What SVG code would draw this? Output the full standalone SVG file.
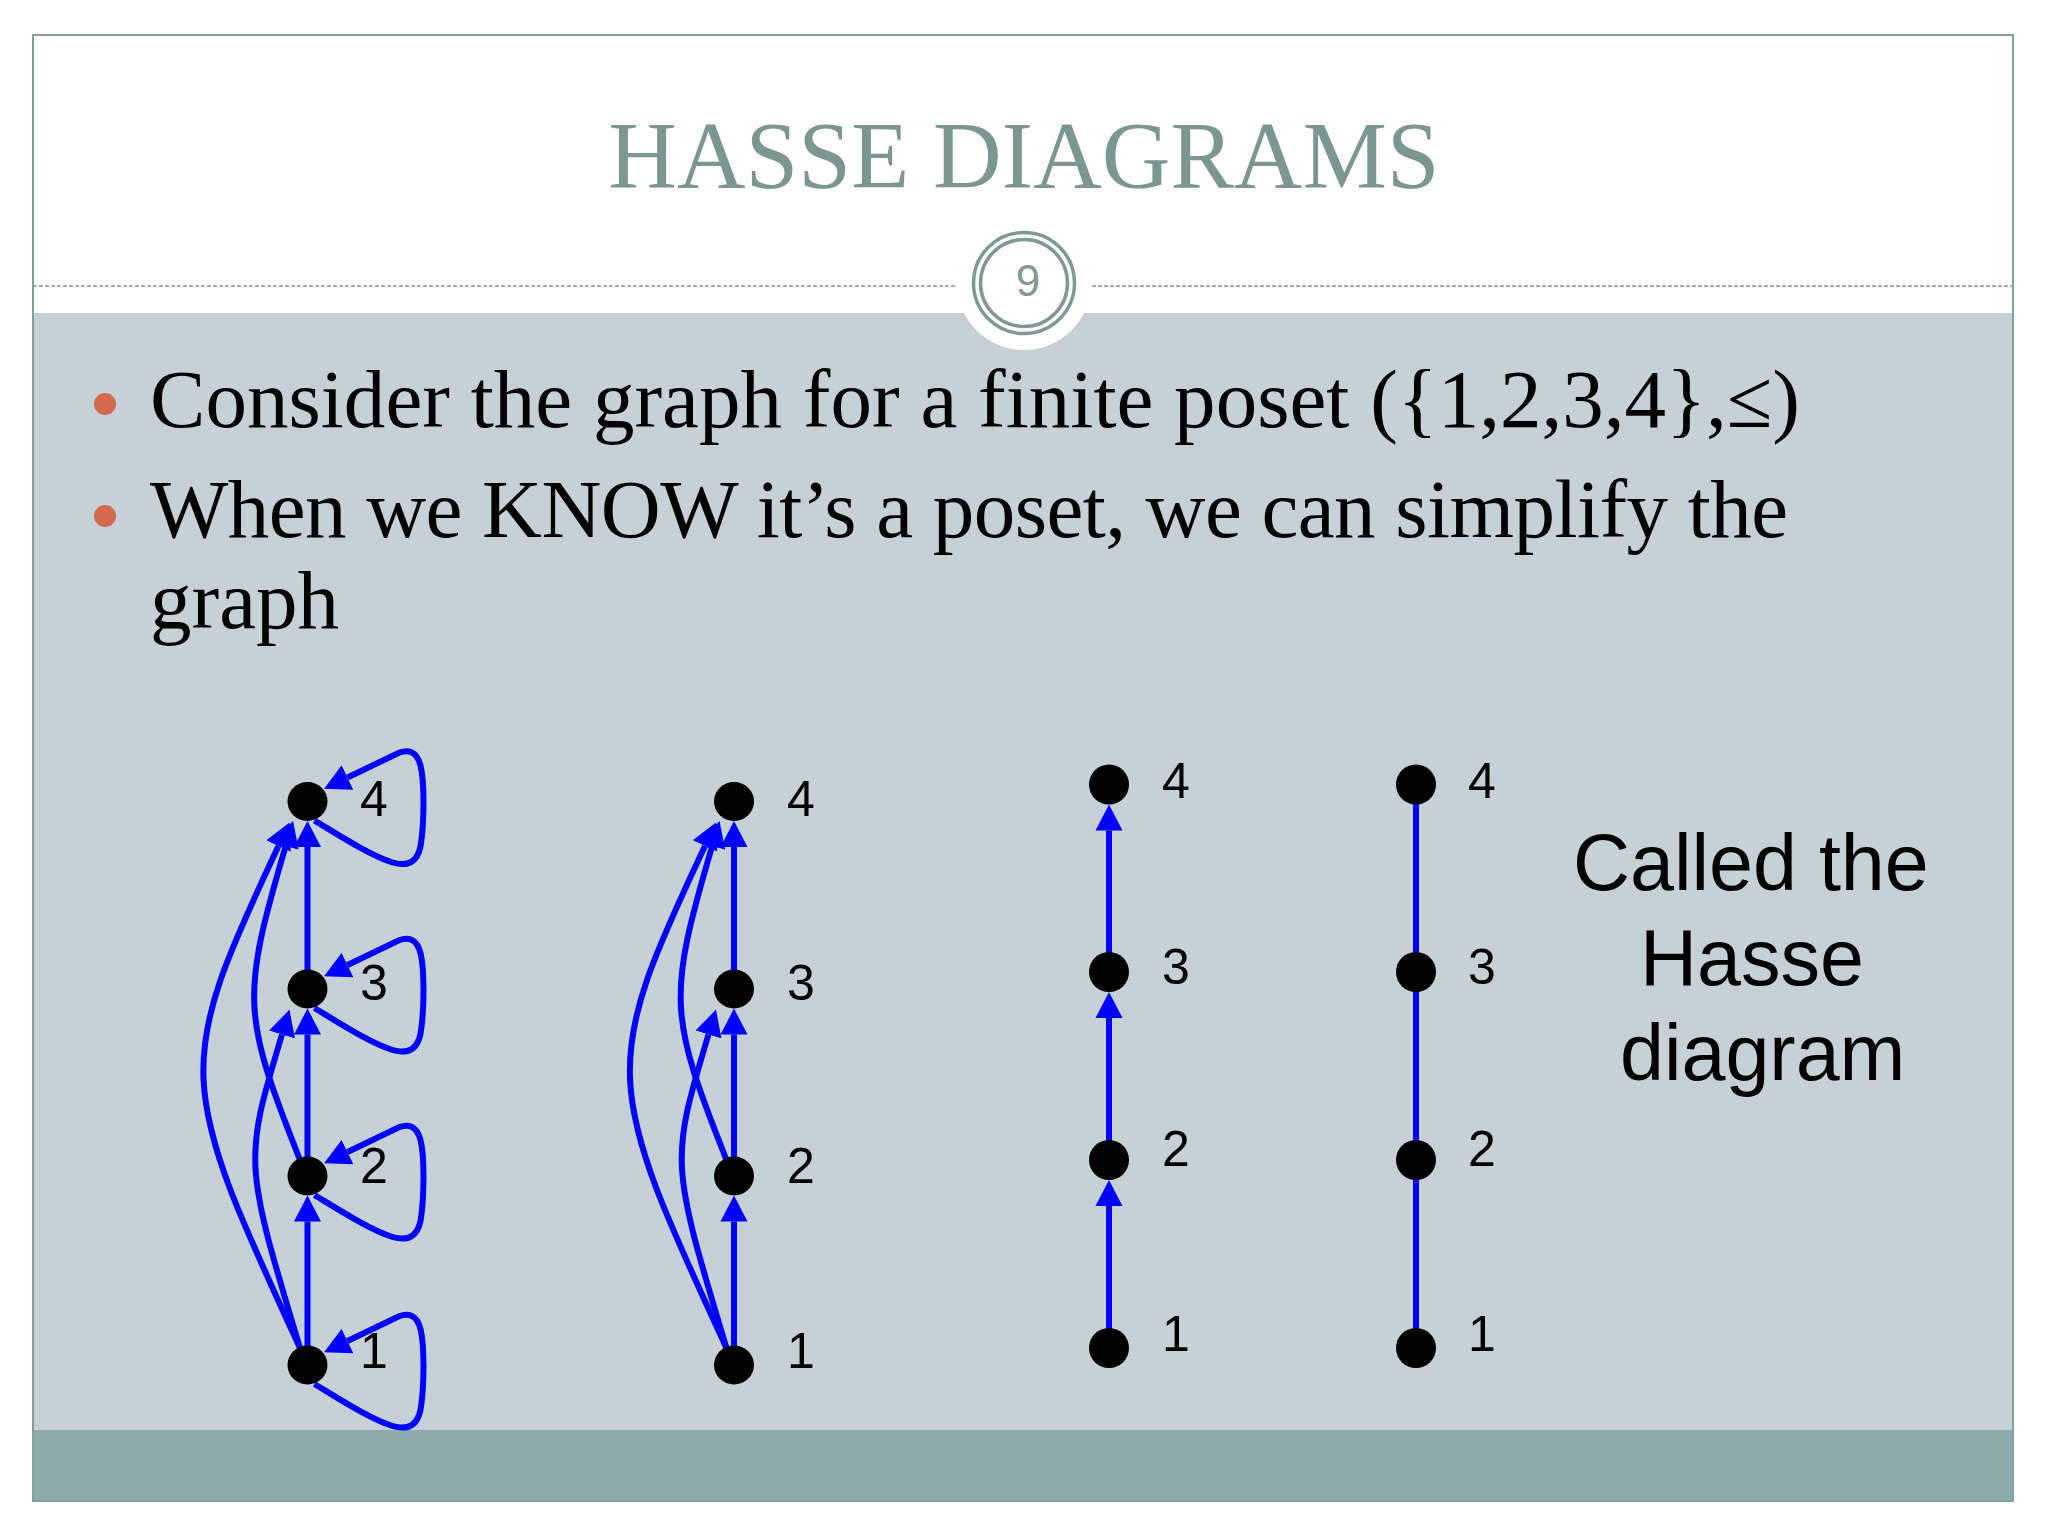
<svg xmlns="http://www.w3.org/2000/svg" xmlns:xlink="http://www.w3.org/1999/xlink" width="2048" height="1536" viewBox="0 0 2048 1536">
<style>
.title{font-family:"Liberation Serif",serif;font-size:95px;fill:#7c9791}
.body{font-family:"Liberation Serif",serif;font-size:83px;fill:#000}
.lbl{font-family:"Liberation Sans",Arial,sans-serif;font-size:50px;fill:#000}
.note{font-family:"Liberation Sans",Arial,sans-serif;font-size:79px;fill:#000}
.edge{fill:none;stroke:#0000ff;stroke-width:6}
.arr{marker-end:url(#ah)}
.node{fill:#000}
.bullet{fill:#d3694a}
</style>
<defs>
<marker id="ah" viewBox="0 -14 26 28" refX="0" refY="0" markerWidth="26" markerHeight="28" markerUnits="userSpaceOnUse" orient="auto">
<path d="M0,-13.5 L26,0 L0,13.5 Z" fill="#0000ff"/>
</marker>
<path id="loop" class="edge arr" d="M7,19 C35,36 63,54 85,61 C102,66 110,59 113,45 C117,20 117,-20 113,-36 C109,-51 100,-52 92,-49 L40,-24"/>
</defs>

<rect x="0" y="0" width="2048" height="1536" fill="#ffffff"/>
<rect x="33" y="35" width="1980" height="278" fill="#ffffff"/>
<rect x="33" y="313" width="1980" height="1117" fill="#c5d1d6"/>
<rect x="33" y="1430" width="1980" height="71" fill="#8eabab"/>
<rect x="33" y="35" width="1980" height="1466" fill="none" stroke="#84a09b" stroke-width="2"/>

<g id="header">
<text class="title" x="1024" y="188" text-anchor="middle">HASSE DIAGRAMS</text>
<line x1="33" y1="286" x2="956" y2="286" stroke="#7f9a94" stroke-width="1.5" stroke-dasharray="4 2"/>
<line x1="1092" y1="286" x2="2012" y2="286" stroke="#7f9a94" stroke-width="1.5" stroke-dasharray="4 2"/>
<circle cx="1024" cy="283" r="67" fill="#ffffff"/>
<circle cx="1024" cy="283" r="50.5" fill="none" stroke="#7f9a94" stroke-width="3.5"/>
<circle cx="1024" cy="283" r="43.5" fill="none" stroke="#7f9a94" stroke-width="3.5"/>
<text x="1028" y="296" text-anchor="middle" font-family="Liberation Sans, Arial, sans-serif" font-size="44" fill="#7f9a94">9</text>
</g>

<g id="bullets">
<circle class="bullet" cx="105" cy="404" r="11"/>
<circle class="bullet" cx="105" cy="516" r="11"/>
<text class="body" x="150" y="427" textLength="1650" lengthAdjust="spacing">Consider the graph for a finite poset ({1,2,3,4},≤)</text>
<text class="body" x="150" y="537" textLength="1638" lengthAdjust="spacing">When we KNOW it’s a poset, we can simplify the</text>
<text class="body" x="150" y="628">graph</text>
</g>

<g id="connectors">
<g id="g1-edges">
<path class="edge arr" d="M307.5,1350 L307.5,1221.5"/>
<path class="edge arr" d="M307.5,1160 L307.5,1034.5"/>
<path class="edge arr" d="M307.5,972 L307.5,847"/>
<path class="edge arr" d="M300,1348 C176,1080 174,1068 278.5,846"/>
<path class="edge arr" d="M300,1160 C242,1014 241,998 285.7,846"/>
<path class="edge arr" d="M300,1348 C243.7,1161.5 243.7,1161.5 282,1034.5"/>
<use href="#loop" xlink:href="#loop" x="307.5" y="801.5"/>
<use href="#loop" xlink:href="#loop" x="307.5" y="989"/>
<use href="#loop" xlink:href="#loop" x="307.5" y="1176"/>
<use href="#loop" xlink:href="#loop" x="307.5" y="1365"/>
</g>
<g id="g2-edges" transform="translate(426.5,0)">
<path class="edge arr" d="M307.5,1350 L307.5,1221.5"/>
<path class="edge arr" d="M307.5,1160 L307.5,1034.5"/>
<path class="edge arr" d="M307.5,972 L307.5,847"/>
<path class="edge arr" d="M300,1348 C176,1080 174,1068 278.5,846"/>
<path class="edge arr" d="M300,1160 C242,1014 241,998 285.7,846"/>
<path class="edge arr" d="M300,1348 C243.7,1161.5 243.7,1161.5 282,1034.5"/>
</g>
<g id="g3-edges">
<path class="edge arr" d="M1109,1330 L1109,1206"/>
<path class="edge arr" d="M1109,1142 L1109,1018"/>
<path class="edge arr" d="M1109,954 L1109,830.5"/>
</g>
<g id="g4-edges">
<path class="edge" d="M1416,1348 L1416,1160"/>
<path class="edge" d="M1416,1160 L1416,972"/>
<path class="edge" d="M1416,972 L1416,784.5"/>
</g>
</g>

<g id="graph1">
<g id="g1-n4"><ellipse class="node" cx="307.5" cy="801.5" rx="20" ry="19.5"/><text class="lbl" x="360" y="816">4</text></g>
<g id="g1-n3"><ellipse class="node" cx="307.5" cy="989" rx="20" ry="19.5"/><text class="lbl" x="360" y="1000">3</text></g>
<g id="g1-n2"><ellipse class="node" cx="307.5" cy="1176" rx="20" ry="19.5"/><text class="lbl" x="360" y="1183">2</text></g>
<g id="g1-n1"><ellipse class="node" cx="307.5" cy="1365" rx="20" ry="19.5"/><text class="lbl" x="360" y="1368">1</text></g>
</g>
<g id="graph2">
<g id="g2-n4"><ellipse class="node" cx="734" cy="801.5" rx="20" ry="19.5"/><text class="lbl" x="787" y="816">4</text></g>
<g id="g2-n3"><ellipse class="node" cx="734" cy="989" rx="20" ry="19.5"/><text class="lbl" x="787" y="1000">3</text></g>
<g id="g2-n2"><ellipse class="node" cx="734" cy="1176" rx="20" ry="19.5"/><text class="lbl" x="787" y="1183">2</text></g>
<g id="g2-n1"><ellipse class="node" cx="734" cy="1365" rx="20" ry="19.5"/><text class="lbl" x="787" y="1368">1</text></g>
</g>
<g id="graph3">
<g id="g3-n4"><circle class="node" cx="1109" cy="784.5" r="20"/><text class="lbl" x="1162" y="798">4</text></g>
<g id="g3-n3"><circle class="node" cx="1109" cy="972" r="20"/><text class="lbl" x="1162" y="984">3</text></g>
<g id="g3-n2"><circle class="node" cx="1109" cy="1160" r="20"/><text class="lbl" x="1162" y="1166">2</text></g>
<g id="g3-n1"><circle class="node" cx="1109" cy="1348" r="20"/><text class="lbl" x="1162" y="1351">1</text></g>
</g>
<g id="graph4">
<g id="g4-n4"><circle class="node" cx="1416" cy="784.5" r="20"/><text class="lbl" x="1468" y="798">4</text></g>
<g id="g4-n3"><circle class="node" cx="1416" cy="972" r="20"/><text class="lbl" x="1468" y="984">3</text></g>
<g id="g4-n2"><circle class="node" cx="1416" cy="1160" r="20"/><text class="lbl" x="1468" y="1166">2</text></g>
<g id="g4-n1"><circle class="node" cx="1416" cy="1348" r="20"/><text class="lbl" x="1468" y="1351">1</text></g>
</g>

<g id="caption">
<text class="note" x="1573" y="890">Called the</text>
<text class="note" x="1640" y="985">Hasse</text>
<text class="note" x="1620" y="1080">diagram</text>
</g>
</svg>
